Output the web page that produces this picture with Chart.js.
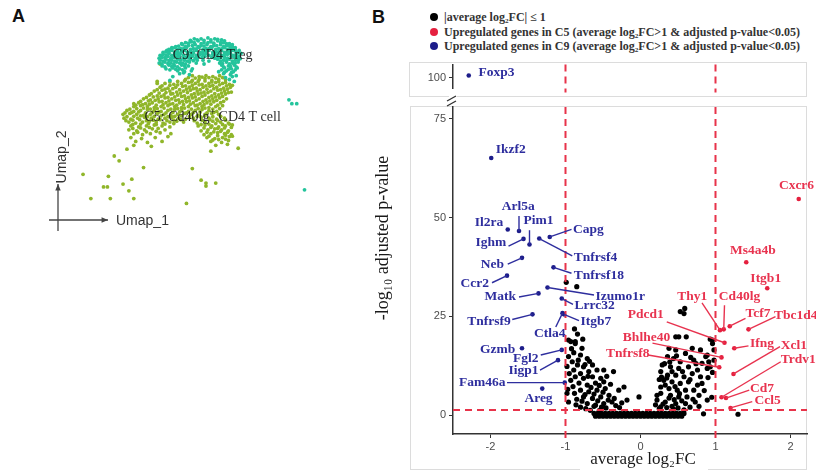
<!DOCTYPE html>
<html lang="en">
<head>
<meta charset="UTF-8">
<title>UMAP and volcano plot</title>
<script src="https://cdn.jsdelivr.net/npm/chart.js"></script>
<style>
  body { margin:0; width:816px; height:473px; background:#fff; position:relative; overflow:hidden; font-family:"Liberation Sans", Arial, sans-serif; }
  canvas { position:absolute; }
  .panel { position:absolute; font-weight:bold; font-size:18px; color:#111; }
  .legend { position:absolute; left:430px; top:10px; font-family:"Liberation Serif", serif; font-weight:bold; font-size:12px; color:#333; line-height:14.5px; white-space:nowrap; }
  .legend .dot { display:inline-block; width:8px; height:8px; border-radius:50%; margin-right:6px; vertical-align:0px; }
</style>
</head>
<body>
<div class="panel" style="left:12px; top:6px;">A</div>
<div class="panel" style="left:372px; top:7px;">B</div>
<div class="legend">
  <div><span class="dot" style="background:#000"></span>|average log₂FC| ≤ 1</div>
  <div><span class="dot" style="background:#e5203f"></span>Upregulated genes in C5 (average log₂FC&gt;1 &amp; adjusted p-value&lt;0.05)</div>
  <div><span class="dot" style="background:#1d1d8a"></span>Upregulated genes in C9 (average log₂FC&gt;1 &amp; adjusted p-value&lt;0.05)</div>
</div>
<canvas id="umap" width="330" height="250" style="left:0; top:0;"></canvas>
<canvas id="topStrip" width="456" height="43" style="left:360px; top:55px;"></canvas>
<canvas id="volcano" width="456" height="381" style="left:360px; top:92px;"></canvas>
<script>
// ---- panel A: UMAP coordinates (umap_1, umap_2) ----
const umapC9 = [
  [19.5,21.4],[20.2,21.4],[20.9,21.5],[21.6,21.4],[22.3,21.3],
  [19.1,21.25],[19.8,21.3],[20.5,21.25],[21.2,21.3],[21.9,21.35],[22.6,21.2],
  [18.6,21.0],[19.2,21.1],[19.9,21.2],[20.5,21.0],[21.2,21.1],[21.9,21.2],[22.5,21.0],[23.1,20.9],
  [18.2,20.9],[18.9,20.95],[19.5,21.0],[20.2,20.9],[20.9,21.0],[21.5,20.95],[22.2,21.0],[22.8,20.9],[23.4,20.8],
  [17.6,20.6],[18.3,20.8],[18.9,20.7],[19.6,20.8],[20.2,20.7],[20.8,20.8],[21.5,20.7],[22.2,20.8],[22.8,20.7],[23.4,20.6],
  [17.2,20.5],[17.9,20.65],[18.6,20.6],[19.3,20.7],[19.9,20.6],[20.5,20.65],[21.2,20.6],[21.8,20.7],[22.5,20.6],[23.1,20.65],[23.7,20.5],
  [16.9,20.3],[17.5,20.5],[18.1,20.4],[18.7,20.5],[19.4,20.4],[20.0,20.5],[20.7,20.4],[21.3,20.5],[22.0,20.4],[22.6,20.5],[23.2,20.4],[23.7,20.3],
  [16.7,20.2],[17.2,20.35],[17.8,20.3],[18.4,20.4],[19.1,20.3],[19.7,20.35],[20.4,20.3],[21.0,20.4],[21.7,20.3],[22.3,20.35],[22.9,20.3],[23.5,20.4],[24.1,20.2],
  [16.6,20.1],[17.2,20.2],[17.8,20.1],[18.5,20.2],[19.1,20.1],[19.7,20.2],[20.4,20.1],[21.0,20.2],[21.7,20.1],[22.3,20.2],[22.9,20.1],[23.5,20.2],[24.0,20.0],
  [16.3,20.0],[16.9,20.05],[17.5,20.0],[18.2,20.1],[18.8,20.0],[19.4,20.05],[20.1,20.0],[20.7,20.1],[21.4,20.0],[22.0,20.05],[22.6,20.0],[23.2,20.1],[23.8,20.0],[24.3,19.9],
  [16.3,19.8],[16.9,19.9],[17.5,19.8],[18.1,19.9],[18.8,19.8],[19.4,19.9],[20.1,19.8],[20.7,19.9],[21.4,19.8],[22.0,19.9],[22.6,19.8],[23.2,19.9],[23.8,19.8],
  [16.0,19.7],[16.6,19.75],[17.2,19.7],[17.8,19.8],[18.4,19.7],[19.1,19.75],[19.7,19.7],[20.4,19.8],[21.0,19.7],[21.7,19.75],[22.3,19.7],[22.9,19.8],[23.5,19.7],[24.1,19.6],
  [16.2,19.5],[16.8,19.6],[17.4,19.5],[18.0,19.6],[18.7,19.5],[19.3,19.6],[19.9,19.5],[20.6,19.6],[21.3,19.5],[21.9,19.6],[22.6,19.5],[23.3,19.6],[23.9,19.5],
  [15.9,19.4],[16.5,19.45],[17.1,19.4],[17.7,19.5],[18.4,19.4],[19.0,19.45],[19.6,19.4],[20.3,19.5],[21.6,19.4],[22.2,19.45],[22.9,19.4],[23.6,19.5],[24.2,19.35],
  [16.0,19.2],[16.6,19.3],[17.2,19.2],[17.8,19.3],[18.5,19.2],[19.1,19.3],[19.8,19.2],[20.4,19.2],[21.0,19.1],[21.9,19.3],[22.5,19.2],[23.1,19.3],[23.7,19.2],
  [16.3,19.1],[16.9,19.15],[17.5,19.1],[18.1,19.2],[18.8,19.1],[19.4,19.15],[22.2,19.1],[22.8,19.15],[23.4,19.1],[24.0,19.2],
  [15.9,18.9],[16.5,19.0],[17.1,18.9],[17.7,19.0],[18.3,18.9],[19.0,19.0],[19.7,18.9],[20.5,18.8],[22.1,18.9],[22.8,19.0],[23.4,18.9],[24.0,19.0],
  [16.2,18.8],[16.8,18.85],[17.4,18.8],[18.0,18.9],[18.6,18.8],[22.4,18.85],[23.1,18.8],[23.7,18.9],
  [16.2,18.6],[16.9,18.7],[17.5,18.6],[18.2,18.7],[18.9,18.6],[22.3,18.7],[23.0,18.6],[23.6,18.7],
  [16.5,18.5],[17.2,18.55],[17.8,18.5],[18.5,18.6],[22.5,18.5],[23.2,18.55],[23.8,18.5],
  [16.6,18.3],[17.3,18.4],[18.0,18.3],[18.6,18.4],[19.3,18.3],[22.6,18.4],[23.3,18.3],[23.9,18.4],
  [17.0,18.2],[17.6,18.25],[18.3,18.2],[22.3,18.2],[23.0,18.25],[23.7,18.2],
  [17.8,18.1],[18.5,18.0],[19.2,18.1],[22.0,18.0],[22.8,18.1],[23.5,18.0],
  [18.4,17.9],[22.6,17.95],[23.3,17.9],
  [18.0,17.8],[19.0,17.7],[22.5,17.8],[23.2,17.7],[23.8,17.6],
  [17.3,17.5],[22.7,17.4],[23.4,17.5],
  [17.0,17.1],[23.1,17.2],[23.6,17.0],
  [29.2,15.1],[29.5,14.7],[30.0,14.7],[30.8,5.8]
];
const umapC5 = [
  [19.3,17.6],[20.0,17.5],[20.7,17.6],[21.4,17.5],[22.1,17.6],
  [18.9,17.4],[19.6,17.35],[20.3,17.45],[21.0,17.4],[21.7,17.35],[22.4,17.4],
  [18.6,17.2],[19.3,17.1],[20.0,17.2],[20.6,17.3],[21.3,17.1],[22.0,17.2],[22.7,17.2],
  [17.0,16.95],[17.8,17.0],[18.5,17.05],[19.2,16.95],[19.9,17.0],[20.6,17.05],[21.3,16.95],[22.0,17.0],[22.7,16.9],
  [16.5,16.8],[17.4,16.7],[18.2,16.8],[18.9,16.9],[19.6,16.8],[20.3,16.7],[21.0,16.8],[21.7,16.9],[22.4,16.8],[23.1,16.7],
  [16.2,16.55],[17.0,16.6],[17.8,16.65],[18.6,16.55],[19.3,16.6],[20.0,16.65],[20.7,16.55],[21.4,16.6],[22.1,16.65],[22.8,16.55],[23.4,16.6],
  [16.0,16.4],[16.8,16.3],[17.6,16.4],[18.3,16.5],[19.0,16.4],[19.7,16.3],[20.4,16.4],[21.1,16.5],[21.8,16.4],[22.5,16.3],[23.2,16.4],
  [15.7,16.15],[16.5,16.2],[17.3,16.25],[18.0,16.15],[18.7,16.2],[19.4,16.25],[20.1,16.15],[20.8,16.2],[21.5,16.25],[22.2,16.15],[22.9,16.2],
  [15.4,16.0],[16.2,16.1],[17.0,16.0],[17.7,15.9],[18.4,16.0],[19.1,16.1],[19.8,16.0],[20.5,15.9],[21.2,16.0],[21.9,16.1],[22.6,16.0],[23.3,15.9],
  [15.1,15.75],[15.9,15.8],[16.6,15.85],[17.3,15.75],[18.1,15.8],[18.8,15.85],[19.5,15.75],[20.2,15.8],[20.9,15.85],[21.6,15.75],[22.3,15.8],[23.0,15.85],
  [14.9,15.6],[15.7,15.5],[16.4,15.6],[17.1,15.7],[17.8,15.6],[18.5,15.5],[19.2,15.6],[19.9,15.7],[20.6,15.6],[21.3,15.5],[22.0,15.6],[22.7,15.7],
  [14.6,15.35],[15.3,15.4],[16.1,15.45],[16.8,15.35],[17.5,15.4],[18.2,15.45],[18.9,15.35],[19.6,15.4],[20.3,15.45],[21.0,15.35],[21.7,15.4],[22.4,15.45],
  [14.3,15.2],[15.0,15.1],[15.8,15.2],[16.5,15.3],[17.2,15.2],[17.9,15.1],[18.6,15.2],[19.3,15.3],[20.0,15.2],[20.7,15.1],[21.4,15.2],[22.1,15.3],[22.8,15.2],
  [14.0,14.95],[14.8,15.0],[15.5,15.05],[16.2,14.95],[16.9,15.0],[17.6,15.05],[18.3,14.95],[19.0,15.0],[19.7,15.05],[20.4,14.95],[21.1,15.0],[21.8,15.05],[22.5,14.95],
  [13.8,14.8],[14.5,14.7],[15.2,14.8],[15.9,14.9],[16.6,14.8],[17.3,14.7],[18.0,14.8],[18.7,14.9],[19.4,14.8],[20.1,14.7],[20.8,14.8],[21.5,14.9],[22.2,14.8],
  [13.5,14.55],[14.2,14.6],[14.9,14.65],[15.6,14.55],[16.3,14.6],[17.0,14.65],[17.7,14.55],[18.4,14.6],[19.1,14.65],[19.8,14.55],[20.5,14.6],[21.2,14.65],[21.9,14.55],
  [13.3,14.4],[14.0,14.5],[14.7,14.4],[15.4,14.3],[16.1,14.4],[16.8,14.5],[17.5,14.4],[18.2,14.3],[18.9,14.4],[19.6,14.5],[20.3,14.4],[21.0,14.3],[21.7,14.4],[22.4,14.5],
  [12.9,14.15],[13.6,14.2],[14.3,14.25],[15.0,14.15],[15.7,14.2],[16.4,14.25],[17.1,14.15],[17.8,14.2],[18.5,14.25],[19.2,14.15],[19.9,14.2],[20.6,14.25],[21.4,14.15],[22.1,14.2],
  [12.6,14.0],[13.3,13.9],[14.0,14.0],[14.7,14.1],[15.4,14.0],[16.1,13.9],[16.8,14.0],[17.5,14.1],[18.2,14.0],[18.9,13.9],[19.6,14.0],[20.3,14.1],[21.0,14.0],[21.8,13.9],
  [12.4,13.75],[13.1,13.8],[13.8,13.85],[14.5,13.75],[15.2,13.8],[15.9,13.85],[16.6,13.75],[17.3,13.8],[18.0,13.85],[18.7,13.75],[19.4,13.8],[20.1,13.85],[20.8,13.75],[21.5,13.8],
  [12.2,13.6],[12.9,13.7],[13.6,13.6],[14.3,13.5],[15.0,13.6],[15.7,13.7],[16.4,13.6],[17.1,13.5],[17.8,13.6],[18.5,13.7],[19.2,13.6],[19.9,13.5],[20.6,13.6],[21.3,13.7],[22.0,13.6],
  [12.6,13.35],[13.3,13.4],[14.0,13.45],[14.7,13.35],[15.4,13.4],[16.1,13.45],[16.8,13.35],[17.5,13.4],[18.2,13.45],[19.0,13.35],[19.8,13.4],[20.6,13.45],[21.4,13.35],[22.2,13.4],
  [12.3,13.2],[13.0,13.1],[13.7,13.2],[14.4,13.3],[15.1,13.2],[15.8,13.1],[16.5,13.2],[17.2,13.3],[17.9,13.2],[18.6,13.1],[19.4,13.2],[20.2,13.3],[21.0,13.2],[21.8,13.1],[22.6,13.2],
  [12.5,12.95],[13.2,13.0],[13.9,13.05],[14.6,12.95],[15.3,13.0],[16.0,13.05],[16.7,12.95],[17.4,13.0],[18.1,13.05],[19.5,12.95],[20.3,13.0],[21.1,13.05],[21.9,12.95],[22.7,13.0],
  [12.8,12.8],[13.5,12.7],[14.2,12.8],[14.9,12.9],[15.6,12.8],[16.3,12.7],[17.0,12.8],[17.7,12.9],[18.4,12.8],[19.8,12.7],[20.6,12.8],[21.4,12.9],[22.2,12.8],[23.0,12.7],
  [13.2,12.55],[14.0,12.6],[14.8,12.65],[15.6,12.55],[16.5,12.6],[17.4,12.65],[20.2,12.55],[21.0,12.6],[21.7,12.65],[22.4,12.55],[23.1,12.6],
  [13.0,12.4],[13.8,12.3],[14.6,12.4],[15.4,12.5],[16.2,12.4],[17.0,12.3],[19.9,12.4],[20.6,12.5],[21.3,12.4],[22.0,12.3],[22.7,12.4],[23.4,12.5],
  [13.2,12.15],[14.0,12.2],[14.9,12.25],[15.8,12.15],[20.5,12.2],[21.2,12.25],[21.9,12.15],[22.6,12.2],[23.3,12.25],
  [12.8,12.0],[13.6,11.9],[14.4,12.0],[15.2,12.1],[16.5,12.0],[20.2,11.9],[20.9,12.0],[21.6,12.1],[22.3,12.0],[23.0,11.9],
  [13.7,11.75],[14.6,11.8],[15.6,11.85],[20.8,11.75],[21.5,11.8],[22.2,11.85],[22.9,11.75],
  [13.3,11.6],[14.2,11.5],[15.0,11.6],[16.0,11.7],[17.1,11.6],[20.5,11.5],[21.2,11.6],[21.9,11.7],[22.6,11.6],[23.3,11.5],
  [21.0,11.35],[21.9,11.4],[22.7,11.45],[23.4,11.35],
  [13.0,11.2],[14.1,11.1],[15.5,11.2],[16.8,11.3],[20.8,11.2],[21.6,11.1],[22.4,11.2],[23.1,11.3],
  [21.4,10.95],[22.0,11.0],[22.7,11.05],
  [13.5,10.8],[14.7,10.7],[16.2,10.8],[21.2,10.8],[22.3,10.7],[23.0,10.9],
  [13.3,10.4],[15.1,10.3],[21.7,10.4],[22.9,10.5],
  [12.6,10.0],[21.2,9.8],[24.0,10.1],
  [15.7,17.0],[15.7,16.8],[16.0,18.8],[13.3,14.7],
  [11.3,9.3],[11.8,8.8],[14.3,8.1],[8.1,7.4],[10.7,7.2],[13.1,6.9],[10.2,6.1],[10.6,6.1],[12.2,6.4],[12.8,5.7],
  [8.9,4.9],[10.9,4.9],[13.3,4.9],[19.3,8.0],[20.2,6.8],[20.7,6.5],[20.7,6.2],[21.7,6.5],[18.7,4.4]
];
const clusterLabels = [['C9: CD4 Treg', 17.3, 19.7], ['C5: Cd40lg⁺ CD4 T cell', 14.4, 13.3]];

// ---- panel B: volcano plot ----
const xTicks = [-2, -1, 0, 1, 2];
const yTicks = [0, 25, 50, 75];
const yTicksTop = [100];
const fcCutoffs = [-1, 1];
const pCutoff = -Math.log10(0.05);

// genes with |avg log2FC| <= 1 : [avg log2FC, -log10 adj p]
const nsPoints = [
  [-0.99,33.6],[-0.85,32.5],
  [-0.84,20.5],[-0.96,19.0],[-0.87,18.6],[-0.93,18.6],[-0.87,18.1],[-0.78,16.9],[-0.89,15.8],[-0.80,15.2],
  [-0.96,14.8],[-0.71,14.3],[-0.91,13.5],[-0.84,12.7],[-0.76,12.2],[-0.64,12.7],[-0.89,11.4],[-0.80,10.5],
  [-0.69,11.0],[-0.58,11.4],[-0.49,11.4],[-0.36,11.0],[-0.87,9.7],[-0.76,9.3],[-0.64,9.7],[-0.53,9.3],
  [-0.82,8.1],[-0.71,7.6],[-0.60,8.1],[-0.49,8.4],[-0.80,6.3],[-0.69,5.9],[-0.58,6.3],[-0.47,6.7],
  [-0.22,7.1],[-0.02,4.6],[-0.76,4.6],[-0.64,4.2],[-0.53,4.6],[-0.42,5.0],[-0.29,6.3],[-0.96,3.3],
  [-0.71,2.9],[-0.60,2.5],[-0.49,2.9],[-0.38,3.3],[-0.18,3.8],[-0.67,1.2],[-0.55,1.1],[-0.98,5.5],
  [-0.95,10.5],[-0.93,8.8],[-0.90,7.2],[-0.88,5.5],[-0.85,4.0],[-0.78,3.5],[-0.74,5.2],[-0.70,9.8],
  [-0.66,7.0],[-0.62,5.3],[-0.57,3.6],[-0.52,2.0],[-0.46,1.8],[-0.43,3.8],[-0.62,2.2],[-0.80,2.0],
  [-0.73,1.6],[-0.86,2.6],[-0.74,12.8],[-0.68,13.6],[-0.83,13.9],[-0.92,16.8],[-0.98,12.3],[-0.97,6.5],
  [-0.55,7.5],[-0.50,5.8],[-0.45,9.8],[-0.40,7.8],[-0.35,4.2],[-0.33,2.4],[-0.28,1.9],[-0.25,3.1],
  [-0.88,21.8],[-0.77,19.2],
  [0.59,27.0],[0.53,26.2],[0.47,19.8],[0.51,19.8],[0.61,19.8],[0.93,19.2],[0.96,18.1],[0.38,16.9],
  [0.47,16.5],[0.60,15.6],[0.69,16.9],[0.80,16.5],[0.89,15.2],[0.98,13.9],[0.36,14.8],[0.44,14.3],
  [0.53,13.5],[0.71,13.9],[0.82,13.1],[0.91,13.5],[0.29,12.7],[0.40,12.2],[0.51,11.8],[0.64,12.2],
  [0.76,11.4],[0.89,11.8],[0.27,11.0],[0.36,10.1],[0.47,10.1],[0.58,9.7],[0.69,10.5],[0.80,9.7],
  [0.31,8.8],[0.42,8.4],[0.53,8.0],[0.64,8.4],[0.76,7.6],[0.27,7.1],[0.38,6.7],[0.49,6.3],
  [0.60,6.3],[0.71,6.3],[0.27,5.5],[0.40,5.0],[0.51,4.6],[0.62,4.6],[0.78,5.0],[0.22,3.8],
  [0.33,3.3],[0.47,2.9],[0.60,2.9],[0.73,3.3],[0.89,3.8],[0.84,0.3],[0.27,2.1],[0.44,1.5],
  [0.58,1.3],[1.30,0.2],
  [0.25,1.6],[0.30,2.8],[0.35,1.9],[0.38,4.3],[0.42,2.2],[0.45,3.9],[0.50,1.8],[0.52,5.4],
  [0.55,3.6],[0.33,7.6],[0.28,9.6],[0.35,9.4],[0.42,11.0],[0.46,7.2],[0.39,13.4],[0.32,13.0],
  [0.25,9.0],[0.22,5.0],[0.20,2.6],[0.48,15.0],[0.56,11.0],[0.66,9.0],[0.70,4.0],[0.66,2.0],
  [0.78,2.2],[0.85,6.2],[0.90,9.5],[0.96,10.8],[0.98,16.5],[0.87,14.8],[0.93,12.2],[0.82,8.0],
  [0.96,19.0],[0.58,25.7],[0.74,13.0],[0.67,14.6],[0.95,4.5],
  [-0.62,0.4],[-0.57,0.4],[-0.52,0.4],[-0.47,0.4],[-0.42,0.4],[-0.37,0.4],[-0.32,0.4],[-0.27,0.4],
  [-0.22,0.4],[-0.17,0.4],[-0.12,0.4],[-0.07,0.4],[-0.02,0.4],[0.03,0.4],[0.08,0.4],[0.13,0.4],
  [0.18,0.4],[0.23,0.4],[0.28,0.4],[0.33,0.4],[0.38,0.4],[0.43,0.4],[0.48,0.4],[0.53,0.4],[0.58,0.4],
  [-0.60,-0.3],[-0.55,-0.3],[-0.50,-0.3],[-0.45,-0.3],[-0.40,-0.3],[-0.35,-0.3],[-0.30,-0.3],[-0.25,-0.3],
  [-0.20,-0.3],[-0.15,-0.3],[-0.10,-0.3],[-0.05,-0.3],[0.00,-0.3],[0.05,-0.3],[0.10,-0.3],[0.15,-0.3],
  [0.20,-0.3],[0.25,-0.3],[0.30,-0.3],[0.35,-0.3],[0.40,-0.3],[0.45,-0.3],[0.50,-0.3],[0.55,-0.3]
];

const c5Genes = ['Cxcr6','Ms4a4b','Itgb1','Thy1','Cd40lg','Tcf7','Tbc1d4','Pdcd1','Ifng','Bhlhe40','Tnfrsf8','Xcl1','Trdv1','Cd7','Ccl5'];
const c5LogFC = [2.11, 1.41, 1.69, 1.06, 1.11, 1.19, 1.44, 1.12, 1.25, 1.08, 1.05, 1.24, 1.08, 1.14, 1.20];
const c5NegLogP = [54.7, 38.7, 32.1, 21.5, 21.7, 22.5, 21.7, 18.3, 16.9, 14.6, 12.1, 10.4, 4.5, 4.3, 1.8];

const c9Genes = ['Foxp3','Ikzf2','Il2ra','Arl5a','Ighm','Pim1','Tnfrsf4','Capg','Neb','Tnfrsf18','Ccr2','Matk','Izumo1r','Lrrc32','Tnfrsf9','Itgb7','Ctla4','Gzmb','Fgl2','Iigp1','Fam46a','Areg'];
const c9LogFC = [-2.29, -1.99, -1.77, -1.62, -1.56, -1.48, -1.35, -1.21, -1.58, -1.16, -1.78, -1.36, -1.24, -1.05, -1.44, -1.02, -1.04, -1.58, -1.05, -1.10, -1.01, -1.31];
const c9NegLogP = [100.8, 65.1, 47.0, 46.6, 44.6, 43.2, 44.7, 45.1, 39.8, 37.4, 35.3, 30.8, 32.3, 29.5, 25.5, 25.5, 25.8, 16.9, 16.5, 13.9, 8.2, 6.7];

// label anchor (data units), alignment, optional leader-line start
const labelPlacement = {
  Foxp3: [-2.16, 101.7, 'left'],
  Ikzf2: [-1.93, 67.3, 'left'],
  Il2ra: [-1.83, 48.7, 'right'],
  Arl5a: [-1.63, 52.7, 'center', -1.62, 50.4],
  Ighm: [-1.79, 43.7, 'right', -1.76, 42.8],
  Pim1: [-1.36, 49.2, 'center', -1.48, 46.8],
  Tnfrsf4: [-0.89, 39.9, 'left', -0.91, 40.3],
  Capg: [-0.90, 47.1, 'left', -0.92, 47.0],
  Neb: [-1.82, 38.0, 'right', -1.77, 38.2],
  Tnfrsf18: [-0.89, 35.4, 'left', -0.92, 35.9],
  Ccr2: [-2.02, 33.2, 'right', -1.98, 33.5],
  Matk: [-1.66, 29.9, 'right', -1.62, 29.9],
  Izumo1r: [-0.60, 30.1, 'left', -0.62, 30.4],
  Lrrc32: [-0.88, 27.8, 'left', -0.90, 28.0],
  Tnfrsf9: [-1.73, 23.8, 'right', -1.71, 24.2],
  Itgb7: [-0.80, 23.6, 'left', -0.82, 23.9],
  Ctla4: [-1.21, 20.7, 'center', -1.13, 22.3],
  Gzmb: [-1.67, 16.7, 'right'],
  Fgl2: [-1.36, 14.4, 'right', -1.33, 15.2],
  Iigp1: [-1.36, 11.2, 'right', -1.34, 11.4],
  Fam46a: [-1.80, 8.2, 'right', -1.78, 8.2],
  Areg: [-1.36, 4.2, 'center'],
  Cxcr6: [2.08, 58.1, 'center'],
  Ms4a4b: [1.50, 41.6, 'center'],
  Itgb1: [1.67, 34.6, 'center'],
  Thy1: [0.69, 29.9, 'center', 0.82, 28.4],
  Cd40lg: [1.32, 29.9, 'center', 1.12, 27.8],
  Tcf7: [1.40, 25.6, 'left', 1.40, 24.5],
  Tbc1d4: [1.78, 25.1, 'left', 1.80, 24.9],
  Pdcd1: [0.31, 25.5, 'right', 0.35, 23.6],
  Ifng: [1.46, 18.2, 'left', 1.44, 17.5],
  Bhlhe40: [0.08, 19.7, 'center', 0.16, 18.2],
  Tnfrsf8: [-0.17, 15.6, 'center', 0.10, 15.2],
  Xcl1: [1.87, 17.7, 'left', 1.86, 17.3],
  Trdv1: [1.87, 14.1, 'left', 1.87, 13.5],
  Cd7: [1.46, 6.8, 'left', 1.45, 6.3],
  Ccl5: [1.52, 3.8, 'left', 1.49, 3.4]
};

const RED = '#e5203f', RED_TXT = '#e8334f', BLUE = '#1d1d8a', BLUE_TXT = '#2e2e9e';
const SPLIT = 90; // y values above this live in the top strip

Chart.defaults.font.family = '"Liberation Sans", Arial, sans-serif';

function arrow(ctx, x1, y1, x2, y2) {
  ctx.beginPath(); ctx.moveTo(x1, y1); ctx.lineTo(x2, y2); ctx.stroke();
  const a = Math.atan2(y2 - y1, x2 - x1);
  ctx.beginPath();
  ctx.moveTo(x2, y2);
  ctx.lineTo(x2 - 7 * Math.cos(a - 0.4), y2 - 7 * Math.sin(a - 0.4));
  ctx.lineTo(x2 - 7 * Math.cos(a + 0.4), y2 - 7 * Math.sin(a + 0.4));
  ctx.closePath(); ctx.fill();
}

// panel A
const umapDecor = {
  id: 'umapDecor',
  afterDatasetsDraw(chart) {
    const { ctx, scales: { x, y } } = chart;
    ctx.save();
    ctx.fillStyle = 'rgba(20,20,20,0.9)';
    ctx.textBaseline = 'middle';
    clusterLabels.forEach(([t, ux, uy]) => {
      // "⁺" drawn as a small raised plus
      let px = x.getPixelForValue(ux);
      const py = y.getPixelForValue(uy);
      t.split('⁺').forEach((part, k) => {
        if (k > 0) {
          ctx.font = '10px "Liberation Serif", serif';
          ctx.fillText('+', px, py - 5);
          px += ctx.measureText('+').width;
        }
        ctx.font = '14px "Liberation Serif", serif';
        ctx.fillText(part, px, py);
        px += ctx.measureText(part).width;
      });
    });
    ctx.strokeStyle = '#444'; ctx.fillStyle = '#444'; ctx.lineWidth = 1.3;
    arrow(ctx, 49, 220, 108, 220);
    arrow(ctx, 58, 231, 58, 184);
    ctx.fillStyle = '#333';
    ctx.font = '14px "Liberation Sans", sans-serif';
    ctx.fillText('Umap_1', 116, 221);
    ctx.translate(62, 157); ctx.rotate(-Math.PI / 2);
    ctx.textAlign = 'center';
    ctx.fillText('Umap_2', 0, 0);
    ctx.restore();
  }
};

new Chart(document.getElementById('umap'), {
  type: 'scatter',
  data: {
    datasets: [
      { data: umapC9.map(([x, y]) => ({ x, y })), backgroundColor: '#24c49c', pointRadius: 1.9, borderWidth: 0, order: 1 },
      { data: umapC5.map(([x, y]) => ({ x, y })), backgroundColor: '#90b62a', pointRadius: 1.9, borderWidth: 0, order: 2 }
    ]
  },
  options: {
    responsive: false, animation: false,
    layout: { padding: 0 },
    plugins: { legend: { display: false }, tooltip: { enabled: false } },
    scales: { x: { display: false, min: 0, max: 33 }, y: { display: false, min: 0, max: 25 } }
  },
  plugins: [umapDecor]
});

// panel B helpers
function drawGeneLabels(chart, genes, fc, p, color, keep) {
  const { ctx, scales: { x, y } } = chart;
  ctx.save();
  ctx.strokeStyle = color; ctx.fillStyle = color; ctx.lineWidth = 1.4;
  ctx.font = 'bold 13.5px "Liberation Serif", serif';
  ctx.textBaseline = 'middle';
  genes.forEach((g, i) => {
    if (!keep(p[i])) return;
    const pl = labelPlacement[g];
    if (pl.length > 3) {
      ctx.beginPath();
      ctx.moveTo(x.getPixelForValue(pl[3]), y.getPixelForValue(pl[4]));
      ctx.lineTo(x.getPixelForValue(fc[i]), y.getPixelForValue(p[i]));
      ctx.stroke();
    }
    ctx.textAlign = pl[2];
    ctx.fillText(g, x.getPixelForValue(pl[0]), y.getPixelForValue(pl[1]));
  });
  ctx.restore();
}

function drawCutoffs(chart, withHorizontal) {
  const { ctx, chartArea: a, scales: { x, y } } = chart;
  ctx.save();
  ctx.strokeStyle = '#e8334a'; ctx.lineWidth = 2; ctx.setLineDash([7, 5]);
  fcCutoffs.forEach(v => {
    const px = x.getPixelForValue(v);
    ctx.beginPath(); ctx.moveTo(px, a.top); ctx.lineTo(px, a.bottom + 4); ctx.stroke();
  });
  if (withHorizontal) {
    const py = y.getPixelForValue(pCutoff);
    ctx.beginPath(); ctx.moveTo(a.left, py); ctx.lineTo(a.right, py); ctx.stroke();
  }
  ctx.restore();
}

function axisOpts(min, max, ticks, extra) {
  return Object.assign({
    type: 'linear', min, max,
    afterBuildTicks: s => { s.ticks = ticks.map(v => ({ value: v })); },
    grid: { drawOnChartArea: false, drawTicks: true, tickLength: 4, color: '#333' },
    border: { display: true, color: '#333', width: 1.5 },
    ticks: { color: '#4d4d4d', font: { size: 11 }, padding: 2, maxRotation: 0 }
  }, extra);
}

const topDecor = {
  id: 'topDecor',
  beforeDraw(chart) {
    const ctx = chart.ctx;
    ctx.save(); ctx.strokeStyle = '#dcdcdc'; ctx.lineWidth = 1;
    ctx.strokeRect(49.5, 7.5, 397, 34); ctx.restore();
  },
  afterDatasetsDraw(chart) {
    drawCutoffs(chart, false);
    drawGeneLabels(chart, c9Genes, c9LogFC, c9NegLogP, BLUE_TXT, v => v > SPLIT);
  }
};

const topIdx = c9NegLogP.map((v, i) => i).filter(i => c9NegLogP[i] > SPLIT);
new Chart(document.getElementById('topStrip'), {
  type: 'scatter',
  data: {
    datasets: [{ data: topIdx.map(i => ({ x: c9LogFC[i], y: c9NegLogP[i] })), backgroundColor: BLUE, pointRadius: 2.3, borderWidth: 0 }]
  },
  options: {
    responsive: false, animation: false,
    layout: { padding: { top: 8, right: 9, left: 0, bottom: 3 } },
    plugins: { legend: { display: false }, tooltip: { enabled: false } },
    scales: {
      x: { display: false, min: -2.5, max: 2.22 },
      y: axisOpts(96.4, 104.5, yTicksTop, { afterFit: s => { s.width = 93; }, ticks: { color: '#4d4d4d', font: { size: 11 }, padding: 3 } })
    }
  },
  plugins: [topDecor]
});

const volcanoDecor = {
  id: 'volcanoDecor',
  beforeDraw(chart) {
    const ctx = chart.ctx;
    ctx.save(); ctx.strokeStyle = '#dcdcdc'; ctx.lineWidth = 1;
    ctx.strokeRect(50.5, 14.5, 396, 363); ctx.restore();
  },
  afterDatasetsDraw(chart) {
    const { ctx, chartArea: a } = chart;
    drawCutoffs(chart, true);
    drawGeneLabels(chart, c9Genes, c9LogFC, c9NegLogP, BLUE_TXT, v => v < SPLIT);
    drawGeneLabels(chart, c5Genes, c5LogFC, c5NegLogP, RED_TXT, () => true);
    ctx.save();
    // axis break marks
    ctx.fillStyle = '#fff';
    ctx.fillRect(a.left - 4, 0, 8, a.top - 1);
    ctx.strokeStyle = '#333'; ctx.lineWidth = 1.4;
    ctx.beginPath(); ctx.moveTo(a.left - 6, 9); ctx.lineTo(a.left + 3, 4); ctx.stroke();
    ctx.beginPath(); ctx.moveTo(a.left - 6, 14); ctx.lineTo(a.left + 3, 9); ctx.stroke();
    // axis titles
    ctx.fillStyle = '#fff';
    ctx.fillRect(220, 358, 128, 23);
    ctx.fillStyle = '#1a1a1a';
    ctx.font = '17px "Liberation Serif", serif';
    ctx.textAlign = 'center'; ctx.textBaseline = 'middle';
    ctx.fillText('average log₂FC', 283, 368);
    ctx.font = '18px "Liberation Serif", serif';
    ctx.translate(23, 146); ctx.rotate(-Math.PI / 2);
    ctx.fillText('-log₁₀ adjusted p-value', 0, 0);
    ctx.restore();
  }
};

const mainC9 = c9NegLogP.map((v, i) => i).filter(i => c9NegLogP[i] < SPLIT);
new Chart(document.getElementById('volcano'), {
  type: 'scatter',
  data: {
    datasets: [
      { data: mainC9.map(i => ({ x: c9LogFC[i], y: c9NegLogP[i] })), backgroundColor: BLUE, pointRadius: 2.3, borderWidth: 0, order: 1 },
      { data: c5Genes.map((g, i) => ({ x: c5LogFC[i], y: c5NegLogP[i] })), backgroundColor: RED, pointRadius: 2.3, borderWidth: 0, order: 2 },
      { data: nsPoints.map(([x, y]) => ({ x, y })), backgroundColor: '#000', pointRadius: 2.6, borderWidth: 0, order: 3 }
    ]
  },
  options: {
    responsive: false, animation: false,
    layout: { padding: { top: 15, right: 9, left: 0, bottom: 0 } },
    plugins: { legend: { display: false }, tooltip: { enabled: false } },
    scales: {
      x: axisOpts(-2.5, 2.22, xTicks, { afterFit: s => { s.height = 39; } }),
      y: axisOpts(-4.8, 78, yTicks, { afterFit: s => { s.width = 93; }, ticks: { color: '#4d4d4d', font: { size: 11 }, padding: 3 } })
    }
  },
  plugins: [volcanoDecor]
});
</script>
</body>
</html>
